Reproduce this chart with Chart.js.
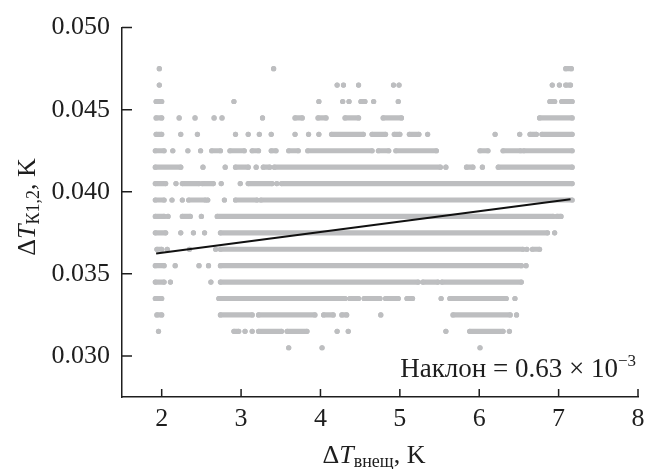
<!DOCTYPE html>
<html lang="ru">
<head>
<meta charset="UTF-8">
<title>Наклон</title>
<style>
  * { margin: 0; padding: 0; }
  body { background: #fff; }
  #wrap { width: 657px; height: 469px; }
</style>
</head>
<body>
<div id="wrap"><canvas id="chart" width="657" height="469"></canvas></div>
<script src="https://cdn.jsdelivr.net/npm/chart.js"></script>
<script>
// уровни по оси Y (значения квантованы с шагом 0.001)
const rowLevels = [0.0475, 0.0465, 0.0455, 0.0445, 0.0435, 0.0425, 0.0415, 0.0405, 0.0395,
                   0.0385, 0.0375, 0.0365, 0.0355, 0.0345, 0.0335, 0.0325, 0.0315, 0.0305];

// для каждого уровня: отдельные точки [x] и сплошные серии точек [x0, x1]
const rowRuns = [
  [[1.97], [3.41], [7.09, 7.16]],
  [[1.97], [4.21], [4.29], [4.48], [4.92], [4.99], [6.92], [7.01], [7.09, 7.15]],
  [[1.93, 2.0], [2.91], [3.98], [4.28], [4.36], [4.51, 4.56], [4.67], [4.98], [6.89, 6.95], [7.04, 7.17]],
  [[1.93, 2.0], [2.22], [2.42], [2.66], [2.76], [3.27], [3.68, 3.77], [3.97, 4.07], [4.31, 4.48], [4.79, 5.02], [6.76, 7.17]],
  [[1.93, 2.0], [2.24], [2.45], [2.93], [3.09], [3.23], [3.38], [3.68], [3.85], [3.98], [4.14, 4.54], [4.65, 4.82],
   [4.93, 5.0], [5.12, 5.24], [5.35], [6.20], [6.51], [6.64, 6.72], [6.79, 7.17]],
  [[1.92, 2.03], [2.14], [2.33], [2.49], [2.63, 2.74], [2.86, 3.04], [3.14, 3.22], [3.38, 3.44], [3.60, 3.72],
   [3.84, 4.65], [4.73, 4.86], [4.95, 5.46], [6.01, 6.11], [6.30, 6.52], [6.56, 7.17]],
  [[1.92, 2.24], [2.52], [2.80], [2.93, 3.09], [3.19], [3.28, 3.36], [3.42, 5.51], [5.58], [5.84, 5.92], [6.04], [6.24, 7.17]],
  [[1.92, 2.05], [2.18], [2.26, 2.47], [2.51, 2.65], [2.75], [2.99], [3.09, 3.39], [3.45], [3.51, 7.17]],
  [[1.92, 2.03], [2.13], [2.26], [2.34, 2.55], [2.58], [2.79], [2.93, 3.20], [3.25, 7.17]],
  [[1.92, 2.03], [2.08], [2.26, 2.36], [2.50], [2.70, 6.93], [6.98, 7.03]],
  [[1.92, 2.05], [2.24], [2.40], [2.54], [2.74, 6.86], [6.95]],
  [[1.94, 2.0], [2.07], [2.35], [2.68], [2.74, 6.55], [6.60], [6.67, 6.76]],
  [[1.92, 2.03], [2.17], [2.47], [2.59], [2.74, 6.53], [6.59]],
  [[1.92, 2.03], [2.11], [2.62], [2.74, 5.23], [5.29, 5.48], [5.53, 6.53]],
  [[1.92, 2.0], [2.72, 4.31], [4.37, 4.48], [4.55, 4.75], [4.82, 4.98], [5.09, 5.16], [5.52], [5.63, 6.34], [6.45]],
  [[1.94, 2.0], [2.74, 3.14], [3.22, 3.93], [4.04, 4.16], [4.27, 4.33], [4.76], [5.67, 6.39], [6.47]],
  [[1.96], [2.91, 2.97], [3.05], [3.14], [3.22, 3.51], [3.58, 3.83], [4.21], [4.35], [5.58], [5.88, 6.30], [6.38]],
  [[3.60], [4.02], [6.01]]
];

// линия регрессии
const regX = [1.93, 7.15];
const regY = [0.03624, 0.03955];

const xTickValues = [2, 3, 4, 5, 6, 7, 8];
const yTickValues = [0.030, 0.035, 0.040, 0.045, 0.050];

const SERIF = '"Liberation Serif", "DejaVu Serif", serif';
const DOT = '#bdbec0';
const INK = '#1e1e1e';

const datasets = [{
  data: regX.map((x, i) => ({ x: x, y: regY[i] })),
  borderColor: '#111',
  borderWidth: 2,
  pointRadius: 0,
  order: -1
}];

rowLevels.forEach((level, r) => {
  const pts = [];
  rowRuns[r].forEach(run => {
    run.forEach(x => pts.push({ x: x, y: level }));
    pts.push({ x: run[run.length - 1], y: null }); // разрыв
  });
  datasets.push({
    data: pts,
    borderColor: DOT,
    borderWidth: 5.2,
    borderCapStyle: 'round',
    pointRadius: 2.6,
    pointBorderWidth: 0,
    pointBackgroundColor: DOT,
    spanGaps: false,
    order: 1
  });
});

// рисует текст из частей (курсив, индексы)
function drawParts(ctx, parts, x, y, align) {
  let total = 0;
  parts.forEach(p => { ctx.font = p.f; p.w = ctx.measureText(p.t).width; total += p.w; });
  let cx = align === 'right' ? x - total : (align === 'center' ? x - total / 2 : x);
  parts.forEach(p => {
    ctx.font = p.f;
    ctx.fillText(p.t, cx, y + (p.dy || 0));
    cx += p.w;
  });
}

const decor = {
  id: 'decor',
  afterDraw(chart) {
    const { ctx, chartArea: a, scales: { x, y } } = chart;
    ctx.save();
    // засечки внутрь
    ctx.strokeStyle = INK;
    ctx.lineWidth = 1.5;
    ctx.beginPath();
    x.ticks.forEach(t => {
      const px = x.getPixelForValue(t.value);
      ctx.moveTo(px, a.bottom);
      ctx.lineTo(px, a.bottom - 8);
    });
    y.ticks.forEach(t => {
      const py = y.getPixelForValue(t.value);
      ctx.moveTo(a.left, py);
      ctx.lineTo(a.left + 10, py);
    });
    ctx.stroke();

    ctx.fillStyle = INK;
    ctx.textBaseline = 'alphabetic';
    // подпись оси X
    drawParts(ctx, [
      { t: 'Δ', f: '26px ' + SERIF },
      { t: 'T', f: 'italic 26px ' + SERIF },
      { t: 'внещ', f: '18px ' + SERIF, dy: 4 },
      { t: ', K', f: '26px ' + SERIF }
    ], 374, 463, 'center');

    // подпись оси Y
    ctx.save();
    ctx.translate(35, 207);
    ctx.rotate(-Math.PI / 2);
    drawParts(ctx, [
      { t: 'Δ', f: '26px ' + SERIF },
      { t: 'T', f: 'italic 26px ' + SERIF },
      { t: 'К1,2', f: '18px ' + SERIF, dy: 4 },
      { t: ', K', f: '26px ' + SERIF }
    ], 0, 0, 'center');
    ctx.restore();

    // наклон
    drawParts(ctx, [
      { t: 'Наклон = 0.63 × 10', f: '27px ' + SERIF },
      { t: '−3', f: '17px ' + SERIF, dy: -11 }
    ], a.right - 2, a.bottom - 20, 'right');
    ctx.restore();
  }
};

new Chart(document.getElementById('chart'), {
  type: 'line',
  data: { datasets: datasets },
  options: {
    responsive: false,
    animation: false,
    events: [],
    layout: { padding: { top: 19, right: 19, left: 0, bottom: 0 } },
    plugins: { legend: { display: false }, tooltip: { enabled: false } },
    scales: {
      x: {
        type: 'linear',
        min: 1.5,
        max: 8,
        grid: { display: false, drawTicks: false },
        border: { display: true, color: INK, width: 1.5 },
        afterBuildTicks: s => { s.ticks = xTickValues.map(v => ({ value: v })); },
        afterFit: s => { s.height = 72; },
        ticks: {
          color: INK,
          padding: 7,
          font: { family: SERIF, size: 26 },
          callback: v => String(v)
        }
      },
      y: {
        type: 'linear',
        min: 0.0275,
        max: 0.050,
        grid: { display: false, drawTicks: false },
        border: { display: true, color: INK, width: 1.5 },
        afterBuildTicks: s => { s.ticks = yTickValues.map(v => ({ value: v })); },
        afterFit: s => { s.width = 122; },
        ticks: {
          color: INK,
          padding: 12,
          font: { family: SERIF, size: 26 },
          callback: v => v.toFixed(3)
        }
      }
    }
  },
  plugins: [decor]
});
</script>
</body>
</html>
